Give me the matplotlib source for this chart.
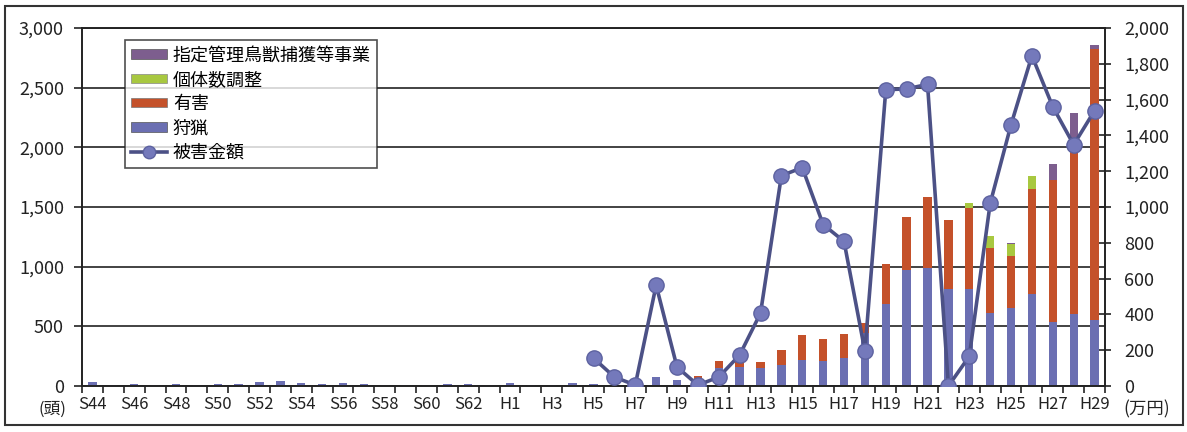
import matplotlib
matplotlib.use("Agg")
import matplotlib.pyplot as plt
import numpy as np
from matplotlib.patches import Rectangle
from matplotlib.lines import Line2D

plt.rcParams['font.family'] = ['Noto Sans CJK JP', 'DejaVu Sans']

# ---- data ----
years = (["S%d" % y for y in range(44, 64)] + ["H%d" % y for y in range(1, 30)])
tick_labels = [y if i % 2 == 0 else "" for i, y in enumerate(years)]

hunting = [35, 8, 15, 10, 18, 5, 18, 20, 35, 45, 28, 20, 28, 15, 10, 5, 8, 15, 18, 12,
           25, 10, 12, 25, 15, 10, 15, 72, 47, 45, 150, 160, 150, 180, 215, 210, 235, 440,
           690, 975, 985, 810, 810, 610, 650, 775, 540, 600, 550]
harmful = [0] * 29 + [40, 60, 90, 50, 120, 215, 185, 200, 90,
                      330, 440, 600, 580, 680, 545, 440, 880, 1190, 1480, 2270]
population = [0] * 42 + [40, 100, 100, 105, 0, 0, 0]
designated = [0] * 44 + [10, 0, 130, 210, 40]

damage_start = 24  # H5
damage = [156, 50, 5, 563, 106, 5, 50, 173, 407, 1175, 1220, 902, 808, 195,
          1655, 1660, 1685, 0, 166, 1020, 1460, 1845, 1560, 1348, 1538]

c_hunt = '#6b6fb2'
c_harm = '#c4512a'
c_pop = '#a8c840'
c_des = '#7d5e8e'
c_line = '#4c5186'
c_mark = '#7479bb'

fig = plt.figure(figsize=(11.87, 4.32), dpi=100)
ax = fig.add_axes([82 / 1187, 1 - 386 / 432, 1023 / 1187, 358 / 432])
ax2 = ax.twinx()

x = np.arange(len(years))
w = 0.4
hunting = np.array(hunting, float)
harmful = np.array(harmful, float)
population = np.array(population, float)
designated = np.array(designated, float)

ax.bar(x, hunting, w, color=c_hunt, zorder=2)
ax.bar(x, harmful, w, bottom=hunting, color=c_harm, zorder=2)
ax.bar(x, population, w, bottom=hunting + harmful, color=c_pop, zorder=2)
ax.bar(x, designated, w, bottom=hunting + harmful + population, color=c_des, zorder=2)

xd = np.arange(damage_start, damage_start + len(damage))
ax2.plot(xd, damage, color=c_line, lw=2.6, marker='o', ms=11,
         mfc=c_mark, mec='#5d62a0', mew=1.0, zorder=5)

ax.set_xlim(-0.5, len(years) - 0.5)
ax.set_ylim(0, 3000)
ax2.set_ylim(0, 2000)
ax.set_yticks(np.arange(0, 3001, 500))
ax.set_yticklabels(["{:,}".format(v) for v in range(0, 3001, 500)])
ax2.set_yticks(np.arange(0, 2001, 200))
ax2.set_yticklabels(["{:,}".format(v) for v in range(0, 2001, 200)])
ax.yaxis.grid(True, color='#222222', lw=1.2, zorder=0)
ax.set_axisbelow(True)

ax.set_xticks(x)
ax.set_xticklabels(tick_labels)
ax.set_xticks(np.arange(-0.5, len(years), 1.0), minor=True)
ax.tick_params(axis='x', which='major', length=0, labelsize=12, pad=7, colors='#222222')
ax.tick_params(axis='x', which='minor', length=5, width=1.2, direction='out', color='#222222')
ax.tick_params(axis='y', length=6, width=1.2, labelsize=13, pad=7, colors='#222222')
ax2.tick_params(axis='y', length=8, width=1.2, direction='inout', labelsize=13, pad=10, colors='#222222')

for a in (ax, ax2):
    for s in a.spines.values():
        s.set_color('#222222')
        s.set_linewidth(1.2)

# unit labels
fig.text(52 / 1187, 1 - 409 / 432, "(頭)", ha='center', va='center', fontsize=12, color='#222222')
fig.text(1147 / 1187, 1 - 409 / 432, "(万円)", ha='center', va='center', fontsize=12.5, color='#222222')

# outer frame
fig.patches.append(Rectangle((5 / 1187, 1 - 425 / 432), 1178 / 1187, 419 / 432,
                             transform=fig.transFigure, fill=False, ec='#333333', lw=1.5))

handles = [
    Rectangle((0, 0), 1, 1, fc=c_des, ec='#555555', lw=0.5),
    Rectangle((0, 0), 1, 1, fc=c_pop, ec='#888888', lw=0.5),
    Rectangle((0, 0), 1, 1, fc=c_harm, ec='#777777', lw=0.5),
    Rectangle((0, 0), 1, 1, fc=c_hunt, ec='#555555', lw=0.5),
    Line2D([], [], color=c_line, lw=2.6, marker='o', ms=9, mfc=c_mark, mec='#5d62a0'),
]
labels = ["指定管理鳥獣捕獲等事業", "個体数調整", "有害", "狩猟", "被害金額"]
leg = ax2.legend(handles, labels, loc='upper left', bbox_to_anchor=(0.042, 0.966),
                 frameon=True, fancybox=False, edgecolor='#222222', fontsize=13,
                 handlelength=2.0, handleheight=0.4, labelspacing=0.35,
                 borderpad=0.35, handletextpad=0.3, borderaxespad=0)
leg.get_frame().set_linewidth(1.2)
leg.set_zorder(10)

fig.savefig("out.png", dpi=100, facecolor='white')
